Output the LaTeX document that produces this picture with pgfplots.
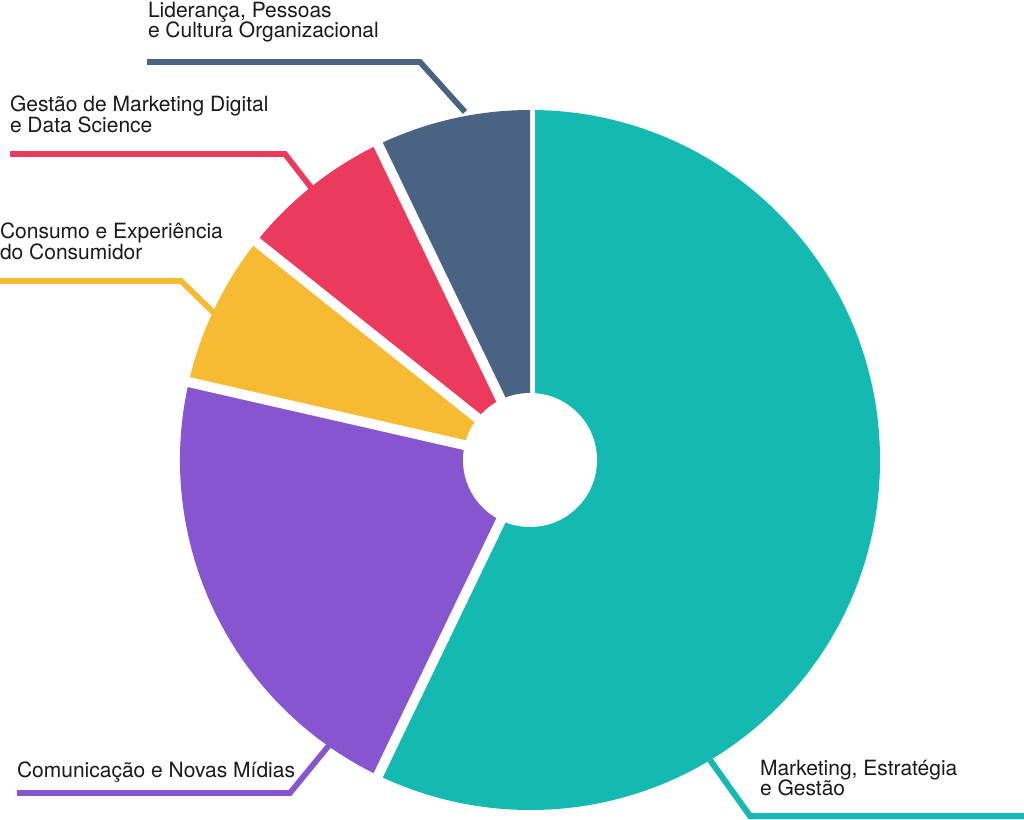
\documentclass[border=0pt]{standalone}
\usepackage{pgfplots}
\usepackage{pgfplotstable}
\pgfplotsset{compat=1.18}
\usepackage{fontspec}
\setmainfont{TeX Gyre Heros}
\definecolor{cteal}{HTML}{14B9B1}
\definecolor{cpurple}{HTML}{8855D0}
\definecolor{cyellow}{HTML}{F6BA33}
\definecolor{cred}{HTML}{EC3A5C}
\definecolor{cblue}{HTML}{4A6382}
\definecolor{ctext}{HTML}{1A1A1A}

\pgfplotstableread{
label value color
Marketing 8 cteal
Comunicacao 3 cpurple
Consumo 1 cyellow
GestaoMD 1 cred
Lideranca 1 cblue
}\piedata

\begin{document}
\begin{tikzpicture}
\useasboundingbox (0,0) rectangle (768pt,614.25pt);
\def\total{14}
\def\R{262.5pt}
\def\startang{90}
\begin{axis}[
  at={(0,0)}, anchor=south west,
  x=0.75pt, y=0.75pt,
  xmin=0, xmax=1024, ymin=0, ymax=819,
  hide axis, clip=false,
]
% slices
\pgfplotsforeachungrouped \i in {0,...,4}{%
  \pgfplotstablegetelem{\i}{value}\of\piedata \let\v\pgfplotsretval
  \pgfplotstablegetelem{\i}{color}\of\piedata \let\c\pgfplotsretval
  \pgfmathsetmacro\endang{\startang - 360*\v/\total}%
  \edef\temp{\noexpand\fill[\c] (axis cs:530,359) -- ++(\startang:\R) arc[start angle=\startang, end angle=\endang, radius=\R] -- cycle;}%
  \temp
  \edef\tempb{\noexpand\draw[white, line width=7.5pt] (axis cs:530,359) -- ++(\startang:265pt);}%
  \tempb
  \global\let\startang\endang
}
\fill[white] (axis cs:530,359) circle[radius=50.25pt];
% leader lines
\draw[cblue, line width=4.3pt] (axis cs:147,757) -- (axis cs:420,757) -- (axis cs:465,707);
\draw[cred, line width=4.3pt] (axis cs:10,665) -- (axis cs:285,665) -- (axis cs:313,629);
\draw[cyellow, line width=4.3pt] (axis cs:0,538) -- (axis cs:181,538) -- (axis cs:214,506);
\draw[cpurple, line width=4.3pt] (axis cs:17,26) -- (axis cs:290,26) -- (axis cs:335,81);
\draw[cteal, line width=4.5pt] (axis cs:710,59) -- (axis cs:750,3) -- (axis cs:1024,3);
% labels
\tikzset{lbl/.style={anchor=base west, inner sep=0pt, outer sep=0pt, text=ctext, font=\fontsize{15.75}{18}\selectfont}}
\node[lbl] at (axis cs:148,801) {Liderança, Pessoas};
\node[lbl] at (axis cs:148,781) {e Cultura Organizacional};
\node[lbl] at (axis cs:10,707) {Gestão de Marketing Digital};
\node[lbl] at (axis cs:10,686) {e Data Science};
\node[lbl] at (axis cs:0,580) {Consumo e Experiência};
\node[lbl] at (axis cs:0,559) {do Consumidor};
\node[lbl] at (axis cs:17,42) {Comunicação e Novas Mídias};
\node[lbl] at (axis cs:760,44) {Marketing, Estratégia};
\node[lbl] at (axis cs:760,24) {e Gestão};
\end{axis}
\end{tikzpicture}
\end{document}
